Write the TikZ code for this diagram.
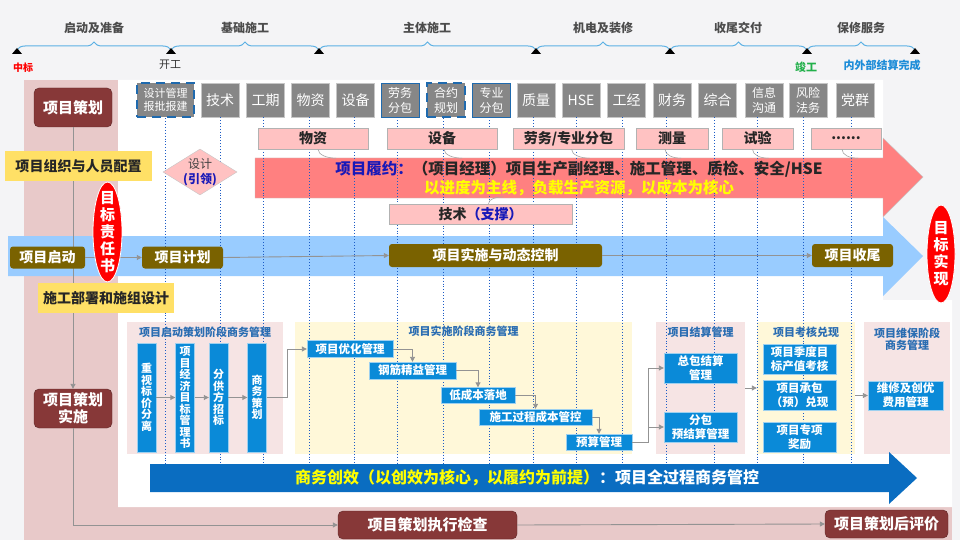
\documentclass[tikz,border=0pt]{standalone}
\usepackage{fontspec}
\setmainfont{Noto Sans CJK SC}
\usepackage{xcolor}
\usepackage{tikz}
\usetikzlibrary{arrows.meta,calc,positioning,shapes.geometric,decorations.pathreplacing}

\definecolor{pagegray}{HTML}{F4F4F6}
\definecolor{colpink}{HTML}{E8C9C9}
\definecolor{lineblue}{HTML}{5BB0E4}
\definecolor{deptgray}{HTML}{878787}
\definecolor{edgeblue}{HTML}{1F6AAE}
\definecolor{tagpink}{HTML}{FFC2C2}
\definecolor{bandred}{HTML}{FF8080}
\definecolor{bandblue}{HTML}{99CCFF}
\definecolor{phaseolive}{HTML}{7A6200}
\definecolor{planred}{HTML}{873838}
\definecolor{noteyellow}{HTML}{FFE066}
\definecolor{textnavy}{HTML}{1818B8}
\definecolor{hiyellow}{HTML}{FFFF00}
\definecolor{areapink}{HTML}{F6E4E4}
\definecolor{areayellow}{HTML}{FFF8D9}
\definecolor{cellblue}{HTML}{0A8AD8}
\definecolor{arrowblue}{HTML}{0A6DC1}
\definecolor{titleblue}{HTML}{2A6DB2}
\definecolor{dotblue}{HTML}{1C5CC6}
\definecolor{donegreen}{HTML}{22B04A}
\definecolor{doneblue}{HTML}{1C8CD8}

\newcommand{\fsz}[2]{\fontsize{#1}{#2}\selectfont}

\begin{document}
\begin{tikzpicture}[x=1pt,y=-1pt,>={Triangle[length=5pt,width=5pt]},
    stagetext/.style={text=black!70,font=\fsz{12}{14}\bfseries},
    timeline/.style={draw=lineblue,line width=1pt,decorate,decoration={brace,amplitude=8pt}},
    deptbox/.style={draw=gray!45,fill=deptgray,text=white,minimum width=38pt,minimum height=34pt,inner sep=0pt,align=center,font=\fsz{14}{16}},
    dashedge/.style={draw=edgeblue,line width=2.5pt,dash pattern=on 9pt off 6pt},
    thinedge/.style={draw=edgeblue,line width=0.8pt},
    guide/.style={draw=dotblue,dotted,line width=0.9pt},
    resource/.style={draw=gray!60,fill=tagpink,minimum height=21pt,inner sep=0pt,text=black!85,font=\fsz{14}{16}\bfseries},
    tailline/.style={draw=gray!70,line width=0.6pt},
    phasebox/.style={fill=phaseolive,text=white,rounded corners=3pt,minimum height=22pt,inner sep=0pt,font=\fsz{14}{16}\bfseries},
    planbox/.style={fill=planred,draw=planred!70!black,text=white,rounded corners=5pt,inner sep=0pt,align=center,font=\fsz{15}{17}\bfseries},
    notebox/.style={fill=noteyellow,inner sep=0pt,text=black!85,font=\fsz{14}{16}\bfseries},
    goal/.style={ellipse,fill=red,draw=white,line width=0.8pt,inner sep=0pt},
    goaltext/.style={text=white,align=center,font=\fsz{15}{17}\bfseries},
    zonebox/.style={minimum height=132pt,inner sep=0pt},
    areatitle/.style={text=titleblue,align=center,font=\fsz{11}{12.5}\bfseries},
    cellbox/.style={fill=cellblue,draw=white!60!cellblue,text=white,inner sep=0pt,align=center,font=\fsz{11.5}{14}\bfseries},
    flow/.style={draw=gray!85,line width=0.9pt,->}]

    \useasboundingbox (0,0) rectangle (960,540);
    % Page background
    \fill[pagegray] (0,0) rectangle (960,540);
    % Planning column and bottom strip
    \fill[colpink] (24,80) rectangle (118,540);
    \fill[colpink] (118,507) rectangle (952,540);
    % White working area
    \fill[white] (118,80) -- (883,80) -- (883,300) -- (952,300) -- (952,507) -- (118,507) -- cycle;

    % Stage timeline with milestones
    \draw[timeline] (17,50) -- (171,50);
    \draw[timeline] (171,50) -- (319,50);
    \draw[timeline] (319,50) -- (536,50);
    \draw[timeline] (536,50) -- (670,50);
    \draw[timeline] (670,50) -- (807,50);
    \draw[timeline] (807,50) -- (915,50);
    \node[stagetext] (st1) at (94,28) {启动及准备};
    \node[stagetext] (st2) at (245,28) {基础施工};
    \node[stagetext] (st3) at (427,28) {主体施工};
    \node[stagetext] (st4) at (603,28) {机电及装修};
    \node[stagetext] (st5) at (738,28) {收尾交付};
    \node[stagetext] (st6) at (861,28) {保修服务};
    \coordinate (ms1) at (17,54);
    \coordinate (ms2) at (171,54);
    \coordinate (ms3) at (319,54);
    \coordinate (ms4) at (536,54);
    \coordinate (ms5) at (670,54);
    \coordinate (ms6) at (807,54);
    \coordinate (ms7) at (915,54);
    \fill (ms1) ++(-5,0) -- ++(10,0) -- ++(-5,-6) -- cycle;
    \fill (ms2) ++(-5,0) -- ++(10,0) -- ++(-5,-6) -- cycle;
    \fill (ms3) ++(-5,0) -- ++(10,0) -- ++(-5,-6) -- cycle;
    \fill (ms4) ++(-5,0) -- ++(10,0) -- ++(-5,-6) -- cycle;
    \fill (ms5) ++(-5,0) -- ++(10,0) -- ++(-5,-6) -- cycle;
    \fill (ms6) ++(-5,0) -- ++(10,0) -- ++(-5,-6) -- cycle;
    \fill (ms7) ++(-5,0) -- ++(10,0) -- ++(-5,-6) -- cycle;
    \node[text=red,font=\fsz{10}{12}\bfseries] (bid) at (23,68) {中标};
    \node[text=black!80,font=\fsz{11}{13}] (start) at (170,65) {开工};
    \node[text=donegreen,font=\fsz{11}{13}\bfseries] (finish) at (806,67) {竣工};
    \node[text=doneblue,font=\fsz{11}{13}\bfseries] (settled) at (882,65) {内外部结算完成};

    % Performance band (red) and control band (blue)
    \fill[bandred,draw=gray!45] (255,158) -- (883,158) -- (883,138) -- (923,177) -- (883,217) -- (883,198) -- (255,198) -- cycle;
    \fill[bandblue] (8,236) -- (883,236) -- (883,217) -- (923,256) -- (883,296) -- (883,276) -- (8,276) -- cycle;

    % Business management zones
    \node[zonebox,fill=areapink,minimum width=156pt] (launch) at (205,388) {};
    \node[zonebox,fill=areayellow,minimum width=337pt] (exec) at (463.5,387.5) {};
    \node[zonebox,fill=areapink,minimum width=89pt] (settle) at (700.5,388) {};
    \node[zonebox,fill=areayellow,minimum width=98pt] (assess) at (806,388) {};
    \node[zonebox,fill=areapink,minimum width=86pt] (warranty) at (907,388) {};

    % Department boxes along the top
    \node[deptbox,minimum width=57pt,font=\fsz{11}{13},dashedge] (dsgn) at (165.5,100) {设计管理\\报批报建};
    \node[deptbox] (tech) at (220,100) {技术};
    \node[deptbox] (sched) at (265.5,100) {工期};
    \node[deptbox] (matl) at (310.5,100) {物资};
    \node[deptbox] (equip) at (355.5,100) {设备};
    \node[deptbox,font=\fsz{12}{15},thinedge] (labor) at (400,100) {劳务\\分包};
    \node[deptbox,font=\fsz{12}{15},dashedge] (contr) at (446,100) {合约\\规划};
    \node[deptbox,font=\fsz{12}{15},thinedge] (spec) at (491.5,100) {专业\\分包};
    \node[deptbox] (qual) at (536,100) {质量};
    \node[deptbox] (hse) at (581,100) {HSE};
    \node[deptbox] (cost) at (626.5,100) {工经};
    \node[deptbox] (fin) at (672,100) {财务};
    \node[deptbox] (admin) at (717.5,100) {综合};
    \node[deptbox,font=\fsz{12}{15}] (info) at (764,100) {信息\\沟通};
    \node[deptbox,font=\fsz{12}{15}] (risk) at (808,100) {风险\\法务};
    \node[deptbox] (party) at (855,100) {党群};

    % Dotted guides down to the business arrow
    \draw[guide] (dsgn.south) -- +(0,347) (tech.south) -- +(0,347)
        ([xshift=-2.5pt]sched.south) -- +(0,347) ([xshift=-1.5pt]matl.south) -- +(0,347)
        ([xshift=-1.5pt]equip.south) -- +(0,347) ([xshift=-3pt]labor.south) -- +(0,347)
        ([xshift=-3pt]contr.south) -- +(0,347) ([xshift=-2.5pt]spec.south) -- +(0,347)
        ([xshift=-3pt]qual.south) -- +(0,347) ([xshift=-5pt]hse.south) -- +(0,347)
        ([xshift=-4.5pt]cost.south) -- +(0,347) ([xshift=-6pt]fin.south) -- +(0,347)
        ([xshift=-3.5pt]admin.south) -- +(0,347) ([xshift=-7pt]info.south) -- +(0,347)
        ([xshift=-5pt]risk.south) -- +(0,347) ([xshift=-4pt]party.south) -- +(0,347);

    % Business arrow at the bottom
    \fill[arrowblue] (150,464) -- (889,464) -- (889,452) -- (917,478) -- (889,504) -- (889,492) -- (150,492) -- cycle;
    \node[font=\fsz{16}{18}\bfseries] (bizline) at (527,478) {\textcolor{hiyellow}{商务创效（以创效为核心，以履约为前提）}\textcolor{white}{：项目全过程商务管控}};

    % Resource tags on the performance band
    \node[resource,minimum width=110pt] (tmatl) at (313,138.5) {物资};
    \node[resource,minimum width=110pt] (tequip) at (442,138.5) {设备};
    \node[resource,minimum width=111pt] (tlabor) at (568.5,138.5) {劳务/专业分包};
    \node[resource,minimum width=72pt] (tsurvey) at (672,138.5) {测量};
    \node[resource,minimum width=71pt] (ttest) at (757.5,138.5) {试验};
    \node[resource,minimum width=70pt] (tmore) at (846,138.5) {......};
    \node[resource,minimum width=183pt,minimum height=20pt] (ttech) at (480.5,214) {技术\textcolor{textnavy}{（支撑）}};
    \draw[tailline] ($(tmatl.south)+(5,0)$) .. controls +(0,6) and +(-8,0) .. ++(18,9);
    \draw[tailline] ($(tequip.south)+(2,0)$) .. controls +(0,6) and +(-8,0) .. ++(18,9);
    \draw[tailline] ($(tlabor.south)+(3,0)$) .. controls +(0,6) and +(-8,0) .. ++(18,9);
    \draw[tailline] ($(tsurvey.south)+(-7,0)$) .. controls +(0,6) and +(-8,0) .. ++(16,9);
    \draw[tailline] ($(ttest.south)+(-5,0)$) .. controls +(0,6) and +(-8,0) .. ++(16,9);
    \draw[tailline] ($(tmore.south)+(-4,0)$) .. controls +(0,6) and +(-8,0) .. ++(16,9);
    \draw[tailline] ($(ttech.north)+(8,0)$) .. controls +(0,-5) and +(-7,0) .. ++(15,-7);

    % Texts on the performance band
    \node[text=black!85,font=\fsz{15.5}{18}\bfseries] (dutyline) at (579,169) {\textcolor{textnavy}{项目履约：}（项目经理）项目生产副经理、施工管理、质检、安全/HSE};
    \node[text=hiyellow,font=\fsz{15.5}{18}\bfseries] (dutygoal) at (579,188) {以进度为主线，负载生产资源，以成本为核心};

    % Planning column
    \node[planbox,minimum width=78pt,minimum height=39pt] (prep) at (73,107.5) {项目策划};
    \node[planbox,minimum width=78pt,minimum height=39pt] (exe) at (73,408.5) {项目策划\\实施};
    \draw[flow] (prep.south) -- (exe.north);
    \node[notebox,minimum width=147pt,minimum height=30pt] (staff) at (78.5,166) {项目组织与人员配置};
    \node[notebox,minimum width=136pt,minimum height=30pt] (layout) at (106,298) {施工部署和施组设计};

    % Control band phases
    \node[phasebox,minimum width=75pt] (kick) at (47.5,257.5) {项目启动};
    \node[phasebox,minimum width=81pt] (plan) at (182.5,257.5) {项目计划};
    \node[phasebox,minimum width=213pt,minimum height=23pt] (impl) at (495.5,255.5) {项目实施与动态控制};
    \node[phasebox,minimum width=81pt,minimum height=23pt] (close) at (852.5,255.5) {项目收尾};
    \draw[flow] (kick.east) -- (plan.west);
    \draw[flow] (plan.east) -- (impl.west);
    \draw[flow] (impl.east) -- (close.west);

    % Goal ellipses and design diamond
    \node[goal,minimum width=29pt,minimum height=100pt] (pledge) at (107.5,232) {};
    \node[goaltext] (pledgetext) at (pledge) {目\\标\\责\\任\\书};
    \node[goal,minimum width=28pt,minimum height=98pt] (target) at (941,254) {};
    \node[goaltext] (targettext) at (target) {目\\标\\实\\现};
    \node[diamond,fill=tagpink,draw=gray!45,minimum width=74pt,minimum height=46pt,inner sep=0pt] (lead) at (200,172) {};
    \node[align=center,font=\fsz{12}{15}] (leadtext) at (lead) {\textcolor{black!75}{设计}\\\textcolor{textnavy}{\bfseries(引领)}};

    % Zone titles
    \node[areatitle] (launchtitle) at (205,332) {项目启动策划阶段商务管理};
    \node[areatitle] (exectitle) at (463.5,331) {项目实施阶段商务管理};
    \node[areatitle] (settletitle) at (700.5,332) {项目结算管理};
    \node[areatitle] (assesstitle) at (806,332) {项目考核兑现};
    \node[areatitle] (warrtitle) at (907,339) {项目维保阶段\\商务管理};

    % Launch zone: vertical cells
    \node[cellbox,minimum width=19pt,minimum height=109pt,font=\fsz{11}{11.5}\bfseries] (cutoff) at (146.5,397.5) {重\\视\\标\\价\\分\\离};
    \node[cellbox,minimum width=19pt,minimum height=109pt,font=\fsz{11}{11.5}\bfseries] (econ) at (185,397.5) {项\\目\\经\\济\\目\\标\\管\\理\\书};
    \node[cellbox,minimum width=19pt,minimum height=109pt,font=\fsz{11}{11.5}\bfseries] (tender) at (218.5,397.5) {分\\供\\方\\招\\标};
    \node[cellbox,minimum width=19pt,minimum height=109pt,font=\fsz{11}{11.5}\bfseries] (bizplan) at (257,397.5) {商\\务\\策\\划};
    \draw[flow] (cutoff.east) -- (econ.west);
    \draw[flow] (econ.east) -- (tender.west);
    \draw[flow] (tender.east) -- (bizplan.west);

    % Execution zone: staircase
    \node[cellbox,minimum width=86pt,minimum height=17pt] (optim) at (350,349) {项目优化管理};
    \node[cellbox,minimum width=87pt,minimum height=17pt] (rebar) at (412.5,370.5) {钢筋精益管理};
    \node[cellbox,minimum width=74pt,minimum height=16pt] (lowcost) at (478,395.5) {低成本落地};
    \node[cellbox,minimum width=113pt,minimum height=16pt] (sitecost) at (535.5,417) {施工过程成本管控};
    \node[cellbox,minimum width=66pt,minimum height=16pt] (budget) at (599,442) {预算管理};
    \draw[flow] (bizplan.east) -- ++(21,0) |- (optim.west);
    \draw[flow] (optim.east) -| (rebar.north);
    \draw[flow] (rebar.east) -| (lowcost.north);
    \draw[flow] (lowcost.east) -| (sitecost.north);
    \draw[flow] (sitecost.east) -| (budget.north);

    % Settlement, assessment and warranty zones
    \node[cellbox,minimum width=73pt,minimum height=30pt] (total) at (700.5,368) {总包结算\\管理};
    \node[cellbox,minimum width=73pt,minimum height=30pt] (sub) at (700.5,427) {分包\\预结算管理};
    \draw[flow] (budget.east) -- ++(16,0) |- (total.west);
    \draw[flow] (budget.east) -- ++(16,0) |- (sub.west);
    \node[cellbox,minimum width=73pt,minimum height=30pt] (quarter) at (799.5,359) {项目季度目\\标产值考核};
    \node[cellbox,minimum width=73pt,minimum height=30pt] (contract) at (799.5,395.5) {项目承包\\（预）兑现};
    \node[cellbox,minimum width=73pt,minimum height=30pt] (bonus) at (799.5,437) {项目专项\\奖励};
    \node[cellbox,minimum width=75pt,minimum height=29pt] (repair) at (905.5,395.5) {维修及创优\\费用管理};
    \draw[flow] (settle.east) -- (assess.west);
    \draw[flow] (assess.east |- repair.west) -- (repair.west);

    % Plan review chain at the bottom
    \node[planbox,minimum width=179pt,minimum height=28pt] (check) at (427.5,525) {项目策划执行检查};
    \node[planbox,minimum width=123pt,minimum height=28pt] (review) at (886.5,524) {项目策划后评价};
    \draw[flow] (exe.south) |- (check.west);
    \draw[flow] (check.east) -- (review.west);
\end{tikzpicture}
\end{document}
